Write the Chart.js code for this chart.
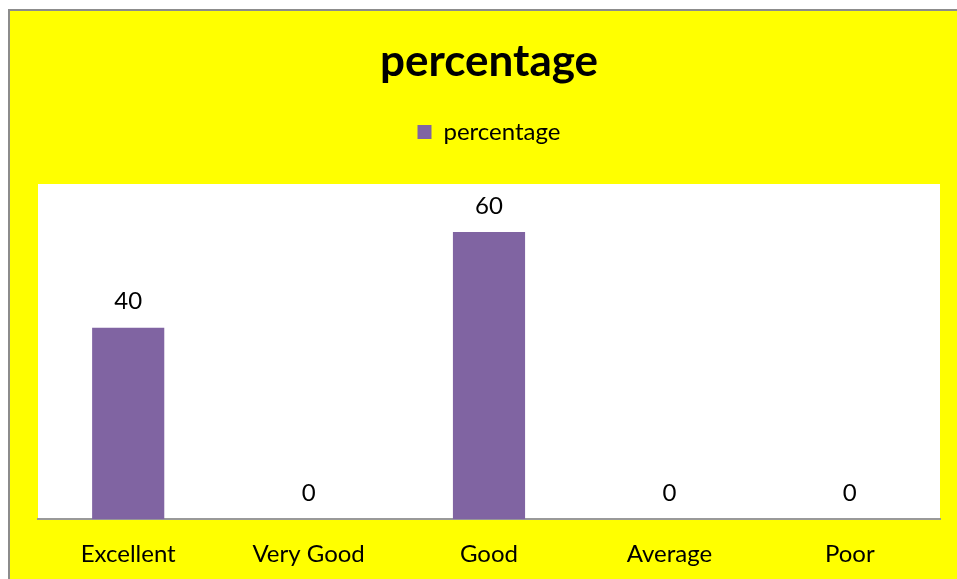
<!DOCTYPE html>
<html>
<head>
<meta charset="utf-8">
<script src="https://cdn.jsdelivr.net/npm/chart.js@4"></script>
<style>
  body { margin: 0; background: #fff; overflow: hidden; }
  #frame {
    position: absolute; left: 8px; top: 9px; width: 1000px; height: 620px;
    border-left: 2px solid #8c8c8c; border-top: 2px solid #8c8c8c;
    background: #ffff00;
  }
  #chart { position: absolute; left: 0; top: 0; }
</style>
</head>
<body>
<div id="frame"></div>
<canvas id="chart" width="957" height="579"></canvas>
<script>
const categories = ["Excellent", "Very Good", "Good", "Average", "Poor"];
const percentage = [40, 0, 60, 0, 0];

const plotBg = {
	id: "plotBg",
	beforeDraw(chart) {
		const a = chart.chartArea;
		const ctx = chart.ctx;
		ctx.save();
		ctx.fillStyle = "#ffffff";
		ctx.fillRect(a.left, a.top, a.right - a.left, a.bottom - a.top);
		ctx.restore();
	},
};

// value labels above each bar
const valueLabels = {
	id: "valueLabels",
	afterDatasetsDraw(chart) {
		const ctx = chart.ctx;
		const meta = chart.getDatasetMeta(0);
		ctx.save();
		ctx.font = "24px Lato";
		ctx.fillStyle = "#000";
		ctx.textAlign = "center";
		ctx.textBaseline = "middle";
		meta.data.forEach(function (bar, i) {
			ctx.fillText(String(percentage[i]), bar.x, bar.y - 26);
		});
		ctx.restore();
	},
};

const theChart = new Chart(document.getElementById("chart"), {
	type: "bar",
	data: {
		labels: categories,
		datasets: [
			{
				label: "percentage",
				data: percentage,
				backgroundColor: "#8064a2",
				categoryPercentage: 1,
				barPercentage: 0.4,
			},
		],
	},
	options: {
		responsive: false,
		animation: false,
		layout: {
			padding: { left: 38, right: 17, top: 0, bottom: -11 },
		},
		scales: {
			x: {
				grid: { display: false, drawTicks: false },
				border: { display: true, color: "#999999", width: 2 },
				ticks: {
					color: "#000",
					padding: 21,
					font: { family: "Lato", size: 24 },
				},
			},
			y: {
				display: false,
				min: 0,
				max: 70,
			},
		},
		plugins: {
			title: {
				display: true,
				text: "percentage",
				color: "#000",
				font: { family: "Lato", size: 44, weight: "bold", lineHeight: 1 },
				padding: { top: 40, bottom: 0 },
			},
			// empty spacer between legend and plot
			subtitle: {
				display: true,
				text: "",
				weight: 500,
				font: { size: 10, lineHeight: 1 },
				padding: { top: 20, bottom: 0 },
			},
			legend: {
				display: true,
				labels: {
					color: "#000",
					boxWidth: 14,
					boxHeight: 14,
					padding: 36,
					font: { family: "Lato", size: 24 },
				},
			},
			tooltip: { enabled: false },
		},
	},
	plugins: [plotBg, valueLabels],
});
</script>
</body>
</html>
